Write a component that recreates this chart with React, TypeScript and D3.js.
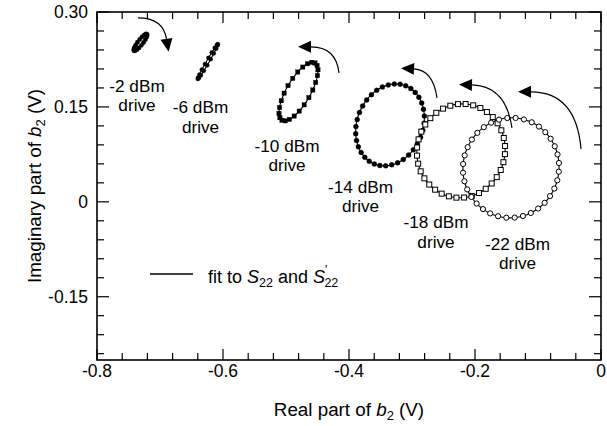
import React from 'react';
import * as d3 from 'd3';

type Pt = [number, number];

// measured loci of b2 (real, imag) for each drive level
const drive2: Pt[] = [
  [-0.7208, 0.2651], [-0.7204, 0.2635], [-0.7211, 0.2605], [-0.7232, 0.2564], [-0.7261, 0.2519],
  [-0.7297, 0.2473], [-0.7334, 0.2433], [-0.7368, 0.2404], [-0.7396, 0.2389], [-0.7413, 0.2389],
  [-0.7417, 0.2405], [-0.7409, 0.2435], [-0.7388, 0.2476], [-0.7359, 0.2521], [-0.7323, 0.2567],
  [-0.7286, 0.2607], [-0.7252, 0.2636], [-0.7224, 0.2652],
];

const drive6: Pt[] = [
  [-0.6083, 0.2491], [-0.6086, 0.2471], [-0.6108, 0.2420], [-0.6147, 0.2344], [-0.6196, 0.2254],
  [-0.6251, 0.2158], [-0.6305, 0.2070], [-0.6351, 0.1999], [-0.6384, 0.1954], [-0.6400, 0.1942],
  [-0.6396, 0.1962], [-0.6374, 0.2012], [-0.6336, 0.2088], [-0.6286, 0.2178], [-0.6231, 0.2274],
  [-0.6177, 0.2362], [-0.6131, 0.2433], [-0.6098, 0.2478],
];

const drive10: Pt[] = [
  [-0.4541, 0.2195], [-0.4507, 0.2155], [-0.4493, 0.2087], [-0.4501, 0.1995], [-0.4529, 0.1886],
  [-0.4575, 0.1767], [-0.4637, 0.1647], [-0.4711, 0.1533], [-0.4790, 0.1433], [-0.4870, 0.1355],
  [-0.4946, 0.1302], [-0.5012, 0.1280], [-0.5064, 0.1289], [-0.5097, 0.1329], [-0.5111, 0.1397],
  [-0.5103, 0.1489], [-0.5075, 0.1598], [-0.5029, 0.1717], [-0.4967, 0.1837], [-0.4893, 0.1951],
  [-0.4814, 0.2051], [-0.4734, 0.2129], [-0.4658, 0.2182], [-0.4592, 0.2204],
];

const drive14: Pt[] = [
  [-0.3100, 0.1833], [-0.3019, 0.1790], [-0.2949, 0.1729], [-0.2891, 0.1652], [-0.2846, 0.1563],
  [-0.2818, 0.1463], [-0.2804, 0.1355], [-0.2808, 0.1243], [-0.2828, 0.1130], [-0.2864, 0.1020],
  [-0.2915, 0.0916], [-0.2979, 0.0821], [-0.3054, 0.0738], [-0.3138, 0.0669], [-0.3228, 0.0617],
  [-0.3322, 0.0584], [-0.3418, 0.0569], [-0.3510, 0.0574], [-0.3598, 0.0599], [-0.3679, 0.0642],
  [-0.3749, 0.0703], [-0.3807, 0.0780], [-0.3852, 0.0869], [-0.3880, 0.0969], [-0.3894, 0.1077],
  [-0.3890, 0.1189], [-0.3870, 0.1302], [-0.3834, 0.1412], [-0.3783, 0.1516], [-0.3719, 0.1611],
  [-0.3644, 0.1694], [-0.3560, 0.1763], [-0.3470, 0.1815], [-0.3376, 0.1848], [-0.3281, 0.1863],
  [-0.3188, 0.1858],
];

const drive18: Pt[] = [
  [-0.2029, 0.1525], [-0.1915, 0.1483], [-0.1811, 0.1420], [-0.1718, 0.1339], [-0.1641, 0.1241],
  [-0.1582, 0.1130], [-0.1543, 0.1009], [-0.1523, 0.0882], [-0.1525, 0.0753], [-0.1549, 0.0626],
  [-0.1592, 0.0503], [-0.1655, 0.0390], [-0.1735, 0.0290], [-0.1830, 0.0206], [-0.1937, 0.0139],
  [-0.2052, 0.0093], [-0.2173, 0.0068], [-0.2295, 0.0066], [-0.2415, 0.0087], [-0.2529, 0.0129],
  [-0.2633, 0.0192], [-0.2726, 0.0273], [-0.2803, 0.0371], [-0.2862, 0.0482], [-0.2902, 0.0603],
  [-0.2921, 0.0730], [-0.2919, 0.0859], [-0.2896, 0.0987], [-0.2852, 0.1109], [-0.2789, 0.1222],
  [-0.2709, 0.1322], [-0.2614, 0.1407], [-0.2507, 0.1473], [-0.2392, 0.1519], [-0.2271, 0.1544],
  [-0.2149, 0.1546],
];

const drive22: Pt[] = [
  [-0.1224, 0.1302], [-0.1099, 0.1257], [-0.0985, 0.1189], [-0.0884, 0.1101], [-0.0800, 0.0997],
  [-0.0734, 0.0878], [-0.0690, 0.0749], [-0.0668, 0.0614], [-0.0670, 0.0476], [-0.0694, 0.0340],
  [-0.0741, 0.0210], [-0.0809, 0.0090], [-0.0895, -0.0016], [-0.0998, -0.0106], [-0.1114, -0.0176],
  [-0.1239, -0.0224], [-0.1370, -0.0249], [-0.1503, -0.0251], [-0.1634, -0.0228], [-0.1759, -0.0183],
  [-0.1873, -0.0115], [-0.1974, -0.0027], [-0.2058, 0.0077], [-0.2124, 0.0196], [-0.2168, 0.0325],
  [-0.2190, 0.0460], [-0.2188, 0.0598], [-0.2164, 0.0734], [-0.2117, 0.0864], [-0.2049, 0.0984],
  [-0.1963, 0.1090], [-0.1860, 0.1180], [-0.1744, 0.1250], [-0.1619, 0.1298], [-0.1488, 0.1324],
  [-0.1355, 0.1325],
];

const driveLabels = ['-2 dBm', '-6 dBm', '-10 dBm', '-14 dBm', '-18 dBm', '-22 dBm'];
// label anchor (centre x, first baseline y) in data units
const labelAnchors: Pt[] = [
  [-0.7365, 0.1738], [-0.6357, 0.1401], [-0.4984, 0.0795],
  [-0.3817, 0.0147], [-0.2619, -0.0415], [-0.1325, -0.0758],
];
// rotation arrows: start, control, end (arrow head base)
const arrows: Pt[][] = [
  [[-0.7349, 0.2907], [-0.6952, 0.2907], [-0.6897, 0.2575]],
  [[-0.4159, 0.2038], [-0.4206, 0.2449], [-0.4603, 0.2449]],
  [[-0.2603, 0.1643], [-0.2667, 0.2085], [-0.2968, 0.2101]],
  [[-0.1413, 0.1169], [-0.1508, 0.1833], [-0.2048, 0.1848]],
  [[-0.0317, 0.0837], [-0.0397, 0.1738], [-0.1111, 0.1738]],
];

const xMajor = [-0.8, -0.6, -0.4, -0.2, 0];
const xTickLabels = ['-0.8', '-0.6', '-0.4', '-0.2', '0'];
const yMajor = [0.3, 0.15, 0, -0.15];
const yTickLabels = ['0.30', '0.15', '0', '-0.15'];

const W = 607;
const H = 426;
const FONT = 'Liberation Sans, Arial, Helvetica, sans-serif';

const x = d3.scaleLinear().domain([-0.8, 0]).range([97, 601]);
const y = d3.scaleLinear().domain([-0.25, 0.3]).range([360, 12]);

const styles = [
  { shape: 'dot', r: 2.2, fill: '#000' },
  { shape: 'dot', r: 2.1, fill: '#000' },
  { shape: 'square', r: 2.2, fill: '#000' },
  { shape: 'dot', r: 2.5, fill: '#000' },
  { shape: 'square', r: 2.5, fill: '#fff' },
  { shape: 'dot', r: 2.6, fill: '#fff' },
];

const allSeries = [drive2, drive6, drive10, drive14, drive18, drive22];

export default function App() {
  const fit = d3
    .line<Pt>()
    .x((d) => x(d[0]))
    .y((d) => y(d[1]))
    .curve(d3.curveCatmullRomClosed.alpha(0.5));

  const xMinor = d3.range(-0.8, 0.0001, 0.04);
  const yMinor = d3.range(-0.24, 0.3001, 0.03);
  const isMajor = (v: number, step: number) => Math.abs(v / step - Math.round(v / step)) < 1e-6;

  const [x0, x1] = x.range();
  const [y0, y1] = y.range();

  return (
    <svg width={W} height={H} style={{ position: 'absolute', left: 0, top: 0, background: '#fff' }} fontFamily={FONT}>
      {/* ticks, mirrored on all four sides */}
      <g stroke="#000" strokeWidth={1.2}>
        {xMinor.map((v, i) => {
          const len = isMajor(v, 0.2) ? 11 : 7;
          return (
            <g key={'xt' + i}>
              <line x1={x(v)} x2={x(v)} y1={y0} y2={y0 - len} />
              <line x1={x(v)} x2={x(v)} y1={y1} y2={y1 + len} />
            </g>
          );
        })}
        {yMinor.map((v, i) => {
          const len = isMajor(v, 0.15) ? 12 : 7;
          return (
            <g key={'yt' + i}>
              <line x1={x0} x2={x0 + len} y1={y(v)} y2={y(v)} />
              <line x1={x1} x2={x1 - len} y1={y(v)} y2={y(v)} />
            </g>
          );
        })}
      </g>
      <rect x={x0} y={y1} width={x1 - x0} height={y0 - y1} fill="none" stroke="#000" strokeWidth={1.6} />

      {xMajor.map((v, i) => (
        <text key={'xl' + i} x={x(v)} y={377} textAnchor="middle" fontSize={17.5}>
          {xTickLabels[i]}
        </text>
      ))}
      {yMajor.map((v, i) => (
        <text key={'yl' + i} x={88} y={y(v) + 6} textAnchor="end" fontSize={17.5}>
          {yTickLabels[i]}
        </text>
      ))}

      <text x={(x0 + x1) / 2} y={416} textAnchor="middle" fontSize={18.8}>
        Real part of <tspan fontStyle="italic">b</tspan>
        <tspan dy={4} fontSize={13}>2</tspan>
        <tspan dy={-4}> (V)</tspan>
      </text>
      <text transform={`translate(41,${(y0 + y1) / 2}) rotate(-90)`} textAnchor="middle" fontSize={18.8}>
        Imaginary part of <tspan fontStyle="italic">b</tspan>
        <tspan dy={4} fontSize={13}>2</tspan>
        <tspan dy={-4}> (V)</tspan>
      </text>

      {/* fitted loci */}
      <g fill="none" stroke="#000" strokeWidth={1.1}>
        {allSeries.map((s, i) => (
          <path key={'fit' + i} d={fit(s) || ''} />
        ))}
      </g>

      {/* measured points */}
      {allSeries.map((s, i) => {
        const st = styles[i];
        return (
          <g key={'pts' + i} stroke="#000" strokeWidth={1} fill={st.fill}>
            {s.map((p, j) =>
              st.shape === 'dot' ? (
                <circle key={j} cx={x(p[0])} cy={y(p[1])} r={st.r} strokeWidth={st.fill === '#000' ? 0.3 : 1} />
              ) : (
                <rect key={j} x={x(p[0]) - st.r} y={y(p[1]) - st.r} width={st.r * 2} height={st.r * 2} strokeWidth={st.fill === '#000' ? 0.3 : 1} />
              )
            )}
          </g>
        );
      })}

      {/* rotation arrows */}
      {arrows.map((a, i) => {
        const [s, c, e] = a.map((p) => [x(p[0]), y(p[1])]);
        const dx = e[0] - c[0];
        const dy = e[1] - c[1];
        const n = Math.hypot(dx, dy);
        const ux = dx / n;
        const uy = dy / n;
        const tip = [e[0] + ux * 13, e[1] + uy * 13];
        const b1 = [e[0] - uy * 6, e[1] + ux * 6];
        const b2 = [e[0] + uy * 6, e[1] - ux * 6];
        return (
          <g key={'ar' + i}>
            <path d={`M${s[0]},${s[1]} Q${c[0]},${c[1]} ${e[0]},${e[1]}`} fill="none" stroke="#000" strokeWidth={1.2} />
            <path d={`M${tip[0]},${tip[1]} L${b1[0]},${b1[1]} L${b2[0]},${b2[1]} Z`} fill="#000" />
          </g>
        );
      })}

      {/* drive labels */}
      {driveLabels.map((t, i) => (
        <text key={'dl' + i} x={x(labelAnchors[i][0])} y={y(labelAnchors[i][1])} textAnchor="middle" fontSize={17.2}>
          <tspan x={x(labelAnchors[i][0])}>{t}</tspan>
          <tspan x={x(labelAnchors[i][0])} dy={19.5}>drive</tspan>
        </text>
      ))}

      {/* legend */}
      <line x1={150} x2={193} y1={274} y2={274} stroke="#000" strokeWidth={1.3} />
      <text x={208} y={283} fontSize={18}>
        fit to <tspan fontStyle="italic">S</tspan>
        <tspan dy={4} fontSize={12.5}>22</tspan>
        <tspan dy={-4}> and </tspan>
        <tspan fontStyle="italic">S</tspan>
        <tspan dy={-9} fontSize={12.5}>'</tspan>
        <tspan dx={-3} dy={13} fontSize={12.5}>22</tspan>
      </text>
    </svg>
  );
}
